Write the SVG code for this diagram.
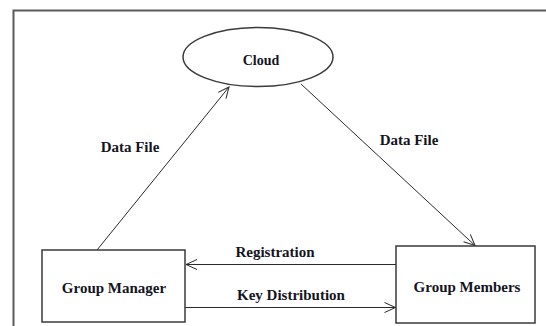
<svg xmlns="http://www.w3.org/2000/svg" width="546" height="326" viewBox="0 0 546 326">
  <style>
    .lbl { font-family: "Liberation Serif", "Times New Roman", serif; font-weight: bold; font-size: 15px; fill: #14141e; text-anchor: middle; }
    .box { fill: #fff; stroke: #3a3a3a; stroke-width: 1.5; }
    .conn { stroke: #2a2a2a; stroke-width: 1; fill: none; }
  </style>
  <defs>
    <marker id="arr" viewBox="-12 -7 14 14" refX="0" refY="0" markerWidth="14" markerHeight="14" markerUnits="userSpaceOnUse" orient="auto">
      <path d="M -11 -5 L 0 0 L -11 5" fill="none" stroke="#2a2a2a" stroke-width="1"/>
    </marker>
  </defs>
  <rect width="546" height="326" fill="#fff"/>
  <path d="M 13.5 330 L 13.5 10.5 L 550 10.5" fill="none" stroke="#5a5a5a" stroke-width="2"/>

  <g id="connectors">
    <line class="conn" x1="97" y1="250" x2="229" y2="87" marker-end="url(#arr)"/>
    <line class="conn" x1="301" y1="84" x2="475" y2="245.5" marker-end="url(#arr)"/>
    <line class="conn" x1="396" y1="264.5" x2="186" y2="264.5" marker-end="url(#arr)"/>
    <line class="conn" x1="185" y1="307.5" x2="395.5" y2="307.5" marker-end="url(#arr)"/>
    <text class="lbl" x="130" y="152">Data File</text>
    <text class="lbl" x="409" y="145">Data File</text>
    <text class="lbl" x="275" y="257">Registration</text>
    <text class="lbl" x="291" y="300">Key Distribution</text>
  </g>

  <g id="cloud">
    <ellipse class="box" cx="258" cy="57" rx="75" ry="29.5"/>
    <text class="lbl" x="261" y="65" style="font-size:14px">Cloud</text>
  </g>

  <g id="group-manager">
    <rect class="box" x="42" y="250" width="143" height="72"/>
    <text class="lbl" x="114" y="293">Group Manager</text>
  </g>

  <g id="group-members">
    <rect class="box" x="396" y="246" width="139" height="77"/>
    <text class="lbl" x="467" y="292">Group Members</text>
  </g>
</svg>
